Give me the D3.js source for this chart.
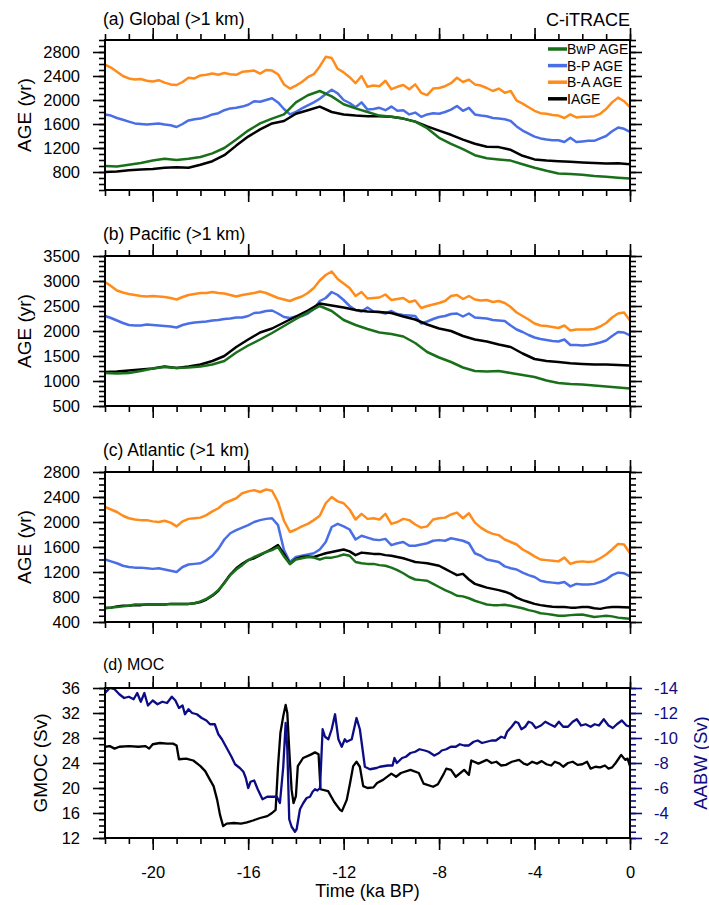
<!DOCTYPE html>
<html>
<head>
<meta charset="utf-8">
<script src="https://cdnjs.cloudflare.com/ajax/libs/d3/7.8.5/d3.min.js"></script>
<style>
body { margin: 0; background: #fff; }
text { font-family: "Liberation Sans", Arial, Helvetica, sans-serif; }
</style>
</head>
<body>
<script>
// time grids (ka BP)
const timeQ = d3.range(-22, 0.001, 0.25);
const timeH = d3.range(-22, 0.001, 0.5);
const timeTicks = [-20, -16, -12, -8, -4, 0];
const timeMinor = d3.range(-22, 0.001, 1);

// tick labels
const ticksA = [800, 1200, 1600, 2000, 2400, 2800];
const ticksB = [500, 1000, 1500, 2000, 2500, 3000, 3500];
const ticksC = [400, 800, 1200, 1600, 2000, 2400, 2800];
const ticksGmoc = [12, 16, 20, 24, 28, 32, 36];
const ticksAabw = [-14, -12, -10, -8, -6, -4, -2];

const legendLabels = ["BwP AGE", "B-P AGE", "B-A AGE", "IAGE"];

// (a) Global
const orangeA = [
  2590, 2540, 2470, 2400,  2360, 2340, 2350, 2320,  2310, 2330, 2290, 2260,
  2250, 2300, 2370, 2360,  2410, 2420, 2440, 2420,  2450, 2430, 2420, 2470,
  2480, 2490, 2440, 2500,  2490, 2430, 2260, 2190,  2240, 2300, 2380, 2430,
  2560, 2720, 2700, 2520,  2460, 2380, 2280, 2400,  2220, 2240, 2230, 2320,
  2180, 2220, 2250, 2180,  2260, 2120, 2080, 2190,  2200, 2230, 2280, 2370,
  2300, 2340, 2260, 2240,  2200, 2150, 2190, 2120,  2150, 1990, 1940, 1880,
  1820, 1780, 1770, 1750,  1740, 1700, 1760, 1710,  1720, 1720, 1730, 1770,
  1850, 1960, 2040, 1980,  1880];
const blueA = [
  1760, 1740, 1700, 1670,  1640, 1610, 1600, 1590,  1600, 1610, 1590, 1580,
  1550, 1600, 1660, 1680,  1690, 1720, 1760, 1780,  1830, 1860, 1870, 1890,
  1920, 1980, 1970, 2000,  2030, 1960, 1850, 1760,  1800, 1860, 1910, 1960,
  2020, 2100, 2170, 2110,  2000, 1950, 1880, 1960,  1840, 1850, 1870, 1830,
  1890, 1820, 1830, 1760,  1790, 1720, 1760, 1780,  1770, 1800, 1840, 1900,
  1820, 1870, 1760, 1740,  1730, 1700, 1690, 1680,  1650, 1560, 1490, 1440,
  1390, 1360, 1340, 1330,  1330, 1300, 1370, 1300,  1310, 1320, 1320, 1360,
  1400, 1480, 1540, 1520,  1470];
const greenA = [
  900, 890, 920, 950, 990, 1020, 1000, 1020, 1050, 1110, 1200, 1340,
  1490, 1610, 1690, 1760, 1960, 2080, 2150, 2060, 1930, 1860, 1800, 1740,
  1720, 1690, 1640, 1530, 1370, 1270, 1180, 1080, 1030, 1010, 990, 930,
  870, 820, 775, 765, 755, 735, 720, 705, 690];
const blackA = [
  800, 810, 830, 840, 850, 870, 880, 870, 920, 980, 1080, 1240,
  1390, 1510, 1610, 1650, 1770, 1830, 1890, 1800, 1760, 1740, 1730, 1730,
  1720, 1690, 1640, 1560, 1490, 1420, 1340, 1270, 1220, 1215, 1170, 1070,
  1010, 990, 980, 970, 960, 950, 940, 945, 930];

// (b) Pacific
const orangeB = [
  2980, 2900, 2810, 2770,  2740, 2720, 2700, 2690,  2700, 2690, 2680, 2660,
  2630, 2680, 2720, 2740,  2760, 2760, 2780, 2760,  2750, 2720, 2690, 2720,
  2740, 2760, 2790, 2760,  2710, 2660, 2630, 2600,  2650, 2690, 2760, 2860,
  3010, 3120, 3190, 3040,  2950, 2860, 2700, 2780,  2650, 2660, 2670, 2730,
  2620, 2640, 2660, 2580,  2610, 2460, 2500, 2530,  2560, 2600, 2700, 2720,
  2640, 2700, 2630, 2610,  2620, 2580, 2600, 2560,  2480, 2370, 2300, 2230,
  2150, 2110, 2100, 2080,  2060, 2110, 2010, 2030,  2030, 2030, 2040, 2090,
  2160, 2270, 2350, 2370,  2210];
const blueB = [
  2300, 2260, 2210, 2160,  2120, 2110, 2110, 2130,  2120, 2110, 2100, 2090,
  2070, 2120, 2150, 2170,  2180, 2190, 2210, 2220,  2240, 2250, 2270, 2270,
  2300, 2360, 2370, 2400,  2410, 2350, 2280, 2260,  2290, 2300, 2350, 2440,
  2600, 2660, 2780, 2720,  2620, 2500, 2420, 2390,  2470, 2390, 2380, 2350,
  2400, 2340, 2320, 2310,  2300, 2150, 2190, 2240,  2280, 2300, 2340, 2350,
  2290, 2350, 2270, 2260,  2250, 2220, 2210, 2200,  2110, 2030, 1980, 1920,
  1870, 1840, 1820, 1800,  1790, 1830, 1720, 1720,  1710, 1720, 1740, 1770,
  1810, 1900, 1980, 1970,  1910];
const greenB = [
  1160, 1150, 1160, 1200, 1250, 1280, 1260, 1270, 1290, 1330, 1400, 1570,
  1710, 1830, 1960, 2100, 2240, 2370, 2500, 2400, 2220, 2120, 2040, 1970,
  1940, 1890, 1760, 1580, 1470, 1380, 1270, 1200, 1190, 1200, 1160, 1120,
  1080, 1010, 960, 940, 930, 910, 890, 870, 850];
const blackB = [
  1180, 1190, 1210, 1230, 1250, 1290, 1260, 1290, 1330, 1400, 1500, 1680,
  1830, 1970, 2050, 2170, 2290, 2410, 2550, 2510, 2470, 2420, 2390, 2380,
  2360, 2290, 2230, 2130, 2050, 2000, 1900, 1830, 1790, 1730, 1680, 1550,
  1440, 1400, 1380, 1355, 1340, 1330, 1330, 1320, 1310];

// (c) Atlantic
const orangeC = [
  2240, 2200, 2160, 2100,  2060, 2040, 2030, 2030,  2010, 2000, 2020, 1990,
  1930, 2010, 2050, 2060,  2070, 2110, 2170, 2220,  2300, 2340, 2380, 2460,
  2490, 2510, 2480, 2520,  2500, 2320, 2020, 1840,  1880, 1930, 1970, 2030,
  2100, 2300, 2400, 2330,  2300, 2200, 2040, 2130,  2050, 2060, 2040, 2130,
  1970, 2000, 2050, 2030,  1960, 1910, 1930, 2040,  2060, 2070, 2120, 2150,
  2060, 2140, 1990, 1910,  1850, 1810, 1790, 1720,  1680, 1640, 1560, 1510,
  1450, 1400, 1390, 1380,  1370, 1430, 1330, 1360,  1370, 1360, 1370, 1420,
  1480, 1560, 1650, 1640,  1500];
const blueC = [
  1400, 1370, 1340, 1300,  1280, 1270, 1270, 1260,  1250, 1260, 1240, 1220,
  1200, 1280, 1320, 1330,  1340, 1390, 1460, 1570,  1720, 1820, 1870, 1910,
  1950, 2000, 2030, 2050,  2060, 1950, 1550, 1360,  1440, 1460, 1480, 1500,
  1560, 1680, 1920, 1970,  1930, 1880, 1720, 1780,  1750, 1720, 1710, 1730,
  1630, 1660, 1680, 1620,  1620, 1640, 1660, 1700,  1710, 1700, 1740, 1720,
  1700, 1660, 1500, 1460,  1400, 1380, 1360, 1290,  1260, 1240, 1190, 1150,
  1120, 1060, 1040, 1030,  1020, 1040, 970, 1010,  1000, 1000, 1010, 1040,
  1080, 1150, 1190, 1180,  1130];
const greenC = [
  630, 630, 640, 650,  660, 680, 680, 680,  680, 680, 680, 690,
  690, 690, 690, 700,  730, 770, 830, 910,  1020, 1150, 1240, 1310,
  1390, 1440, 1480, 1520,  1550, 1600, 1450, 1330,  1400, 1420, 1440, 1430,
  1400, 1430, 1430, 1450,  1480, 1460, 1360, 1340,  1330, 1330, 1310, 1300,
  1270, 1230, 1180, 1120,  1080, 1070, 1060, 1010,  960, 910, 870, 820,
  810, 780, 740, 710,  680, 670, 670, 675,  660, 640, 620, 590,
  570, 540, 530, 515,  500, 500, 510, 515,  520, 500, 480, 490,
  500, 490, 470, 460,  450];
const blackC = [
  620, 630, 650, 660,  660, 670, 670, 680,  680, 680, 680, 690,
  690, 690, 690, 700,  720, 760, 820, 900,  1030, 1160, 1260, 1330,
  1390, 1420, 1470, 1520,  1570, 1630, 1490, 1330,  1410, 1440, 1450, 1440,
  1470, 1500, 1520, 1540,  1560, 1530, 1470, 1510,  1500, 1490, 1490, 1470,
  1460, 1440, 1420, 1390,  1360, 1350, 1340, 1320,  1300, 1250, 1200, 1150,
  1170, 1080, 1010, 980,  950, 930, 910, 885,  850, 790, 750, 720,
  690, 670, 655, 645,  640, 640, 630, 630,  640, 640, 620, 610,
  630, 640, 640, 635,  630];

// (d) MOC: [time, Sv]
const gmoc = [
  [-22, 26.6], [-21.8, 26.7], [-21.6, 26.3], [-21.4, 26.6], [-21.0, 26.7], [-20.6, 26.6],
  [-20.3, 26.7], [-20.15, 26.3], [-20.0, 27.0], [-19.7, 27.2], [-19.4, 27.1], [-19.15, 27.1],
  [-19.0, 26.8], [-18.9, 24.6], [-18.6, 24.7], [-18.3, 24.4], [-18.0, 23.5], [-17.8, 22.7],
  [-17.6, 21.3], [-17.45, 20.3], [-17.3, 18.1], [-17.18, 15.7], [-17.05, 13.9], [-16.9, 14.3],
  [-16.6, 14.4], [-16.3, 14.3], [-16.05, 14.5], [-15.8, 14.8], [-15.5, 15.2], [-15.2, 15.5],
  [-15.0, 16.0], [-14.85, 16.5], [-14.75, 23.5], [-14.65, 28.8], [-14.53, 31.5], [-14.43, 33.3],
  [-14.36, 32.0], [-14.28, 26.1], [-14.18, 19.7], [-14.1, 17.6], [-14.0, 18.7], [-13.92, 23.5],
  [-13.7, 24.8], [-13.4, 25.3], [-13.2, 25.7], [-13.05, 25.4], [-12.97, 19.8], [-12.65, 19.5],
  [-12.4, 17.8], [-12.15, 16.5], [-12.07, 16.3], [-11.87, 18.1], [-11.73, 20.8], [-11.6, 23.5],
  [-11.46, 24.2], [-11.32, 23.4], [-11.18, 20.3], [-11.0, 20.0], [-10.75, 20.1], [-10.6, 20.8],
  [-10.35, 21.3], [-10.0, 22.3], [-9.8, 21.8], [-9.6, 22.4], [-9.2, 22.9], [-8.85, 22.4],
  [-8.65, 20.7], [-8.25, 20.2], [-8.05, 20.6], [-7.8, 22.3], [-7.7, 23.1], [-7.5, 22.9],
  [-7.3, 21.8], [-6.95, 22.9], [-6.75, 22.1], [-6.65, 24.4], [-6.35, 23.9], [-6.0, 24.5],
  [-5.8, 24.0], [-5.6, 24.2], [-5.4, 23.6], [-5.2, 23.7], [-4.95, 24.2], [-4.65, 24.5],
  [-4.45, 23.9], [-4.3, 23.7], [-4.1, 24.2], [-3.9, 23.9], [-3.7, 24.3], [-3.5, 23.8],
  [-3.3, 23.6], [-3.15, 24.2], [-2.95, 23.9], [-2.8, 23.4], [-2.6, 24.0], [-2.4, 24.2],
  [-2.2, 23.7], [-2.0, 23.8], [-1.8, 24.2], [-1.65, 23.1], [-1.45, 23.4], [-1.25, 23.3],
  [-1.05, 23.6], [-0.9, 23.1], [-0.75, 23.3], [-0.6, 24.0], [-0.37, 25.3], [-0.2, 24.5],
  [-0.1, 24.7], [0, 23.5]];
const aabw = [
  [-22, -13.6], [-21.8, -14.0], [-21.6, -13.9], [-21.4, -13.5], [-21.2, -13.2], [-21.0, -13.3],
  [-20.8, -13.1], [-20.65, -13.6], [-20.5, -12.9], [-20.35, -13.6], [-20.2, -12.6], [-20.0, -13.0],
  [-19.8, -12.7], [-19.6, -12.9], [-19.4, -12.8], [-19.2, -13.3], [-19.05, -13.0], [-18.9, -12.4],
  [-18.75, -12.6], [-18.65, -11.9], [-18.5, -12.3], [-18.35, -12.0], [-18.15, -11.9], [-17.95, -11.6],
  [-17.75, -11.4], [-17.6, -11.1], [-17.4, -11.1], [-17.25, -10.3], [-17.1, -9.9], [-16.9, -9.2],
  [-16.7, -8.5], [-16.55, -7.9], [-16.35, -7.6], [-16.2, -7.3], [-16.1, -6.8], [-16.0, -6.0],
  [-15.9, -6.5], [-15.75, -6.6], [-15.6, -5.9], [-15.4, -5.1], [-15.2, -5.3], [-15.0, -5.3],
  [-14.8, -5.3], [-14.67, -4.8], [-14.53, -7.7], [-14.43, -11.2], [-14.36, -9.1], [-14.28, -3.5],
  [-14.18, -2.9], [-14.04, -2.5], [-13.97, -2.7], [-13.83, -4.3], [-13.69, -4.8], [-13.55, -5.2],
  [-13.41, -5.3], [-13.3, -5.7], [-13.2, -5.9], [-13.1, -5.8], [-12.99, -6.0], [-12.88, -10.7],
  [-12.78, -10.1], [-12.64, -9.9], [-12.5, -10.7], [-12.36, -11.9], [-12.22, -9.9], [-12.08, -9.3],
  [-11.95, -9.9], [-11.87, -9.7], [-11.66, -9.9], [-11.46, -11.6], [-11.32, -10.7], [-11.2, -9.0],
  [-11.11, -7.7], [-10.9, -7.5], [-10.62, -7.6], [-10.48, -7.7], [-10.15, -7.8], [-9.95, -7.8],
  [-9.87, -8.4], [-9.77, -8.0], [-9.55, -8.4], [-9.39, -8.5], [-9.2, -8.8], [-9.0, -8.9],
  [-8.82, -9.1], [-8.6, -9.0], [-8.44, -8.9], [-8.2, -8.6], [-8.0, -8.8], [-7.89, -9.0],
  [-7.7, -9.1], [-7.51, -9.3], [-7.3, -9.3], [-7.13, -9.5], [-6.95, -9.4], [-6.76, -9.4],
  [-6.55, -9.7], [-6.38, -9.8], [-6.2, -9.6], [-6.0, -9.7], [-5.8, -9.8], [-5.62, -9.8],
  [-5.4, -10.1], [-5.25, -10.0], [-5.15, -10.5], [-4.96, -10.9], [-4.8, -11.3], [-4.68, -11.2],
  [-4.55, -10.7], [-4.39, -10.9], [-4.25, -11.3], [-4.11, -11.2], [-3.95, -10.8], [-3.73, -11.0],
  [-3.55, -11.3], [-3.36, -11.1], [-3.15, -10.9], [-2.98, -11.3], [-2.8, -10.9], [-2.6, -10.9],
  [-2.4, -11.3], [-2.23, -11.5], [-2.05, -11.0], [-1.86, -11.1], [-1.65, -10.9], [-1.48, -11.1],
  [-1.3, -11.0], [-1.1, -11.5], [-0.9, -11.0], [-0.72, -10.8], [-0.55, -11.1], [-0.34, -11.4],
  [-0.15, -11.0], [0, -10.9]];

// layout
const W = 709, H = 905;
const left = 105, right = 630, ph = 150;
const cGreen = "#1a701a", cBlue = "#4a6ee6", cOrange = "#ff8c1a", cBlack = "#000", cNavy = "#0c0c85";

const svg = d3.select("body").append("svg")
    .attr("width", W)
    .attr("height", H);

const x = d3.scaleLinear().domain([-22, 0]).range([left, right]);

function addAxis(g, axis, tx, ty, color, size) {
    const a = g.append("g").attr("transform", "translate(" + tx + "," + ty + ")").call(axis);
    a.select(".domain").remove();
    a.selectAll("line").attr("stroke", color || "#000").attr("stroke-width", 1.6);
    a.selectAll("text").attr("fill", color || "#000").style("font-size", (size || 16.5) + "px");
    return a;
}

const fmt = d => String(d);

const panels = [
    {top: 40, domain: [500, 3000], ticks: ticksA, minor: d3.range(500, 3001, 100), title: "(a) Global (>1 km)", tY: 25,
     lines: [[timeQ, orangeA, cOrange], [timeQ, blueA, cBlue], [timeH, blackA, cBlack], [timeH, greenA, cGreen]]},
    {top: 256, domain: [500, 3500], ticks: ticksB, minor: d3.range(500, 3501, 100), title: "(b) Pacific (>1 km)", tY: 240,
     lines: [[timeQ, orangeB, cOrange], [timeQ, blueB, cBlue], [timeH, blackB, cBlack], [timeH, greenB, cGreen]]},
    {top: 472, domain: [400, 2800], ticks: ticksC, minor: d3.range(400, 2801, 100), title: "(c) Atlantic (>1 km)", tY: 456,
     lines: [[timeQ, orangeC, cOrange], [timeQ, blueC, cBlue], [timeQ, blackC, cBlack], [timeQ, greenC, cGreen]]},
    {top: 688, domain: [12, 36], ticks: ticksGmoc, minor: d3.range(12, 37, 1), title: "(d) MOC", tY: 670, moc: true}
];

panels.forEach((p, i) => {
    const g = svg.append("g").attr("transform", "translate(0," + p.top + ")");
    const y = d3.scaleLinear().domain(p.domain).range([ph, 0]);

    const clipId = "clip" + i;
    g.append("clipPath").attr("id", clipId)
        .append("rect").attr("x", left).attr("y", 0).attr("width", right - left).attr("height", ph);
    const plot = g.append("g").attr("clip-path", "url(#" + clipId + ")");

    if (!p.moc) {
        p.lines.forEach(([t, v, c]) => {
            plot.append("path")
                .datum(d3.zip(t, v))
                .attr("fill", "none")
                .attr("stroke", c)
                .attr("stroke-width", 2.5)
                .attr("stroke-linejoin", "round")
                .attr("d", d3.line().x(d => x(d[0])).y(d => y(d[1])));
        });
    } else {
        const yR = d3.scaleLinear().domain([-2, -14]).range([ph, 0]);
        plot.append("path").datum(gmoc)
            .attr("fill", "none").attr("stroke", cBlack).attr("stroke-width", 2.3)
            .attr("stroke-linejoin", "round")
            .attr("d", d3.line().x(d => x(d[0])).y(d => y(d[1])));
        plot.append("path").datum(aabw)
            .attr("fill", "none").attr("stroke", cNavy).attr("stroke-width", 2.3)
            .attr("stroke-linejoin", "round")
            .attr("d", d3.line().x(d => x(d[0])).y(d => yR(d[1])));

        addAxis(g, d3.axisRight(yR).tickValues(d3.range(-14, -1.9, 0.5)).tickSize(6).tickFormat(""), right, 0, cNavy);
        addAxis(g, d3.axisRight(yR).tickValues(ticksAabw).tickSize(12).tickPadding(12).tickFormat(fmt), right, 0, cNavy);
        g.append("text")
            .attr("transform", "translate(700," + (ph / 2) + ") rotate(-90)")
            .attr("text-anchor", "middle")
            .attr("dominant-baseline", "central")
            .attr("fill", cNavy)
            .style("font-size", "18.5px")
            .text("AABW (Sv)");
    }

    // frame
    g.append("rect")
        .attr("x", left).attr("y", 0)
        .attr("width", right - left).attr("height", ph)
        .attr("fill", "none").attr("stroke", "#000").attr("stroke-width", 2);

    // x ticks top and bottom
    addAxis(g, d3.axisTop(x).tickValues(timeMinor).tickSize(6).tickFormat(""), 0, 0);
    addAxis(g, d3.axisTop(x).tickValues(timeTicks).tickSize(12).tickFormat(""), 0, 0);
    addAxis(g, d3.axisBottom(x).tickValues(timeMinor).tickSize(6).tickFormat(""), 0, ph);
    addAxis(g, d3.axisBottom(x).tickValues(timeTicks).tickSize(12).tickPadding(16)
        .tickFormat(p.moc ? fmt : ""), 0, ph);

    // y ticks
    addAxis(g, d3.axisLeft(y).tickValues(p.minor).tickSize(6).tickFormat(""), left, 0);
    addAxis(g, d3.axisLeft(y).tickValues(p.ticks).tickSize(12).tickPadding(13).tickFormat(fmt), left, 0);
    if (!p.moc) {
        addAxis(g, d3.axisRight(y).tickValues(p.minor).tickSize(6).tickFormat(""), right, 0);
        addAxis(g, d3.axisRight(y).tickValues(p.ticks).tickSize(12).tickFormat(""), right, 0);
    }

    // y title
    g.append("text")
        .attr("transform", "translate(" + (p.moc ? 40 : 24) + "," + (ph / 2) + ") rotate(-90)")
        .attr("text-anchor", "middle")
        .attr("dominant-baseline", "central")
        .style("font-size", "19px")
        .text(p.moc ? "GMOC (Sv)" : "AGE (yr)");

    // panel title
    svg.append("text")
        .attr("x", 103).attr("y", p.tY)
        .style("font-size", p.moc ? "16px" : "17.5px")
        .text(p.title);
});

// label top right
svg.append("text")
    .attr("x", right).attr("y", 26)
    .attr("text-anchor", "end")
    .style("font-size", "18px")
    .text("C-iTRACE");

// legend
const legendColors = [cGreen, cBlue, cOrange, cBlack];
legendLabels.forEach((lab, i) => {
    const yy = 49 + i * 16.6;
    svg.append("line")
        .attr("x1", 548).attr("x2", 567)
        .attr("y1", yy).attr("y2", yy)
        .attr("stroke", legendColors[i]).attr("stroke-width", 3.5);
    svg.append("text")
        .attr("x", 567).attr("y", yy)
        .attr("dominant-baseline", "central")
        .style("font-size", "14px")
        .text(lab);
});

// x title
svg.append("text")
    .attr("x", (left + right) / 2).attr("y", 897)
    .attr("text-anchor", "middle")
    .style("font-size", "18px")
    .text("Time (ka BP)");
</script>
</body>
</html>
